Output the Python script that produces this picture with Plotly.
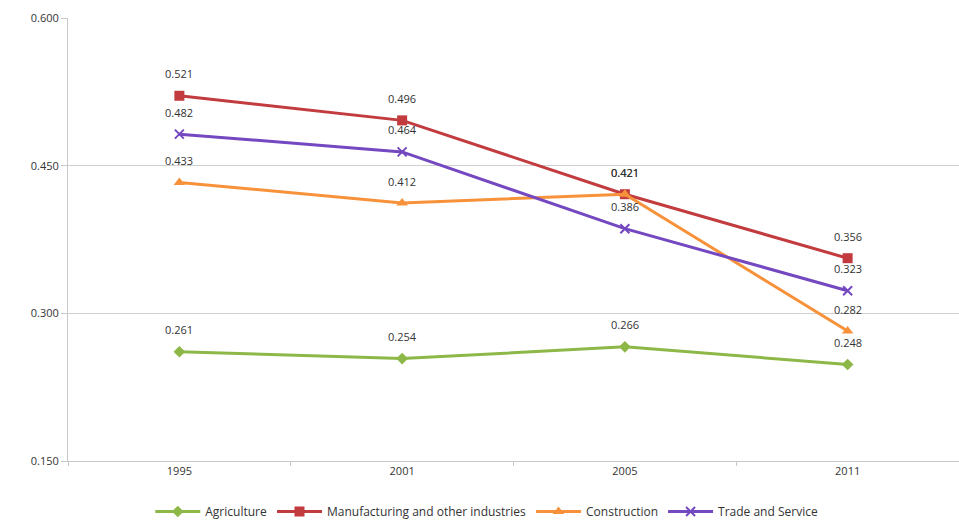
import plotly.graph_objects as go

years = ["1995", "2001", "2005", "2011"]
agriculture = [0.261, 0.254, 0.266, 0.248]
manufacturing = [0.521, 0.496, 0.421, 0.356]
construction = [0.433, 0.412, 0.421, 0.282]
trade = [0.482, 0.464, 0.386, 0.323]

series = [
    ("Agriculture", agriculture, "#8DB847", "diamond", 9),
    ("Manufacturing and other industries", manufacturing, "#C23B3E", "square", 10),
    ("Construction", construction, "#F7923A", "triangle-up", 10),
    ("Trade and Service", trade, "#7448C0", "x-thin-open", 9),
]

FONT = "Open Sans, sans-serif"

fig = go.Figure()
annotations = []
for name, vals, color, sym, size in series:
    fig.add_trace(go.Scatter(
        x=years, y=vals, name=name, mode="lines+markers",
        line=dict(color=color, width=3),
        marker=dict(symbol=sym, size=size, color=color,
                    line=dict(color=color, width=2 if "x" in sym else 0)),
    ))
    for i, v in enumerate(vals):
        annotations.append(dict(
            x=i, y=v, xref="x", yref="y", text=f"{v:.3f}", showarrow=False, yshift=22,
            font=dict(family=FONT, size=11, color="#333333"),
        ))

fig.update_layout(
    width=959, height=526,
    margin=dict(l=68, r=0, t=18, b=65),
    paper_bgcolor="white", plot_bgcolor="white",
    font=dict(family=FONT, size=11, color="#333333"),
    annotations=annotations,
    showlegend=True,
    legend=dict(orientation="h", x=0.47, xanchor="center", y=-0.115, yanchor="middle",
                font=dict(family=FONT, size=12, color="#333333"),
                itemwidth=45, tracegroupgap=0),
    xaxis=dict(type="category", range=[-0.5, 3.5], showgrid=False,
               showline=True, linecolor="#C8C8C8", linewidth=1,
               ticks="outside", tickson="boundaries", ticklen=4, tickcolor="#C8C8C8",
               tickfont=dict(size=11), zeroline=False),
    yaxis=dict(range=[0.15, 0.6], dtick=0.15, tick0=0.15, tickformat=".3f",
               showgrid=True, gridcolor="#D0D0D0", gridwidth=1,
               showline=True, linecolor="#C8C8C8", linewidth=1,
               ticks="outside", ticklen=6, tickcolor="#C8C8C8",
               tickfont=dict(size=11), zeroline=False),
)

fig.write_html("out.html")
